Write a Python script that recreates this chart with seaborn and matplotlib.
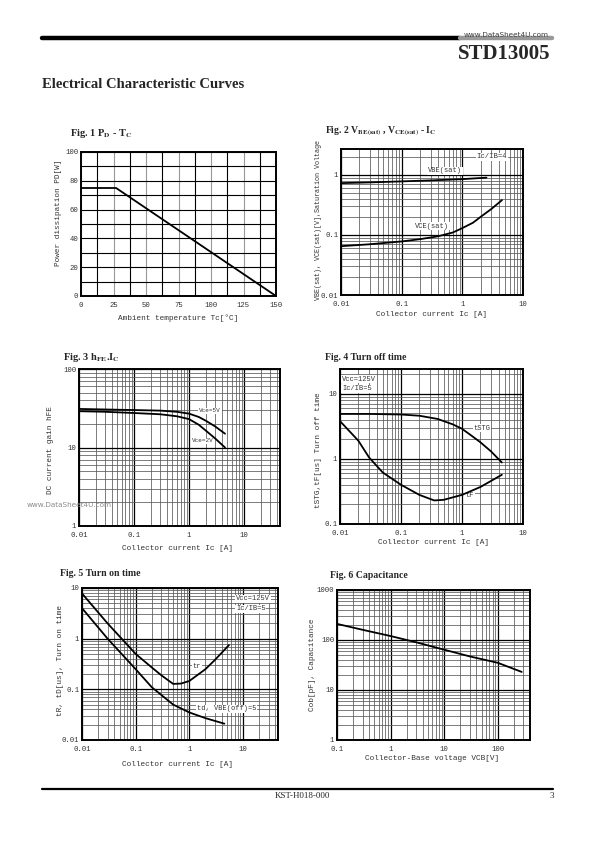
import numpy as np
import matplotlib
matplotlib.use("Agg")
import matplotlib.pyplot as plt
import seaborn as sns
from matplotlib.ticker import LogLocator, NullFormatter, MultipleLocator
from matplotlib.lines import Line2D

# ---------------- data ----------------
# Fig 1  Pd - Tc
pd_tc = [0, 27, 150]
pd_w = [75, 75, 0]

# Fig 2  VBE(sat), VCE(sat) - Ic
ic_vbe = [0.01, 0.03, 0.1, 0.3, 1, 2.5]
vbe_sat = [0.73, 0.75, 0.78, 0.81, 0.85, 0.9]
ic_vce = [0.01, 0.03, 0.1, 0.2, 0.4, 0.7, 1, 1.5, 2, 3, 4.5]
vce_sat = [0.065, 0.07, 0.078, 0.085, 0.095, 0.11, 0.13, 0.16, 0.2, 0.27, 0.38]

# Fig 3  hFE - Ic
ic_hfe = [0.01, 0.03, 0.1, 0.3, 0.6, 1, 1.5, 2, 3, 4.5]
hfe_5v = [31, 30.5, 30, 29.5, 28.5, 27, 24.5, 22, 18.5, 15]
hfe_2v = [29, 28.5, 27.5, 26.5, 25, 23, 19.5, 16.5, 13, 10]

# Fig 4  Turn off time
ic_stg = [0.01, 0.03, 0.1, 0.2, 0.4, 0.7, 1, 1.5, 2, 3, 4.5]
t_stg = [4.9, 4.9, 4.8, 4.6, 4.1, 3.4, 2.9, 2.2, 1.8, 1.3, 0.88]
ic_tf = [0.01, 0.02, 0.03, 0.05, 0.1, 0.2, 0.35, 0.5, 1, 2, 4.5]
t_f = [3.8, 1.9, 1.05, 0.62, 0.4, 0.28, 0.23, 0.235, 0.28, 0.37, 0.57]

# Fig 5  Turn on time
ic_tr = [0.01, 0.03, 0.1, 0.2, 0.3, 0.5, 0.7, 1, 2, 3, 5.5]
t_r = [7.8, 2.0, 0.5, 0.27, 0.19, 0.128, 0.13, 0.146, 0.25, 0.38, 0.75]
ic_td = [0.01, 0.03, 0.1, 0.2, 0.5, 1, 2, 4.5]
t_d = [4.0, 1.0, 0.25, 0.11, 0.05, 0.035, 0.027, 0.021]

# Fig 6  Capacitance
vcb = [0.1, 0.3, 1, 3, 10, 30, 100, 280]
cob = [210, 160, 120, 90, 64, 47, 35, 23]

# tick labels
log_x_labels = ["0.01", "0.1", "1", "10"]

# ---------------- figure ----------------
W, H = 595, 842
sns.set_style("white")
plt.rcParams['font.family'] = ['Liberation Mono', 'DejaVu Sans']
plt.rcParams['mathtext.fontset'] = 'stix'

fig = plt.figure(figsize=(W / 100, H / 100), dpi=100)
SERIF = ['Liberation Serif', 'DejaVu Serif']
TXT = '#333333'


def add_ax(l, t, r, b):
    return fig.add_axes([l / W, 1 - b / H, (r - l) / W, (b - t) / H])


def ftext(x, y, s, **kw):
    kw.setdefault('va', 'center')
    fig.text(x / W, 1 - y / H, s, **kw)


box = dict(facecolor='white', edgecolor='none', pad=0.5)


def atext(ax, x, y, s, size=5, **kw):
    """Label inside an axes, placed in page pixels, drawn under the curves."""
    kw.setdefault('va', 'center')
    ax.text(x / W, 1 - y / H, s, transform=fig.transFigure, fontsize=size,
            color=TXT, zorder=1.5, bbox=box, **kw)


def style(ax, xlog, ylog, xlim, ylim, xt, xtl, yt, ytl):
    if xlog:
        ax.set_xscale('log')
    if ylog:
        ax.set_yscale('log')
    ax.set_xlim(xlim)
    ax.set_ylim(ylim)
    ax.set_xticks(xt)
    ax.set_xticklabels(xtl)
    ax.set_yticks(yt)
    ax.set_yticklabels(ytl)
    if xlog:
        ax.xaxis.set_minor_locator(LogLocator(base=10, subs=np.arange(2, 10)))
    if ylog:
        ax.yaxis.set_minor_locator(LogLocator(base=10, subs=np.arange(2, 10)))
    ax.xaxis.set_minor_formatter(NullFormatter())
    ax.yaxis.set_minor_formatter(NullFormatter())
    ax.grid(which='major', color='black', lw=0.9)
    ax.grid(which='minor', color='0.35', lw=0.55)
    ax.tick_params(which='both', length=0, labelsize=5.2, colors=TXT)
    ax.tick_params(axis='x', pad=4)
    ax.tick_params(axis='y', pad=2)
    for s in ax.spines.values():
        s.set_color('black')
        s.set_linewidth(1.4)
        s.set_zorder(3)
    ax.set_axisbelow(True)
    ax.set_xlabel('')
    ax.set_ylabel('')


LW = 1.3

# ---------------- page decorations ----------------
fig.add_artist(Line2D([42 / W, 460 / W], [1 - 38 / H] * 2, color='black', lw=3.2))
fig.add_artist(Line2D([460 / W, 552 / W], [1 - 38 / H] * 2, color='0.6', lw=3.2))
ftext(464, 35, "www.DataSheet4U.com", family='DejaVu Sans', fontsize=5.2, color='0.25')
ftext(550, 54, "STD13005", family=SERIF, fontweight='bold', fontsize=15, ha='right')
ftext(42, 85, "Electrical Characteristic Curves", family=SERIF, fontweight='bold', fontsize=10.5)
fig.add_artist(Line2D([42 / W, 553 / W], [1 - 789 / H] * 2, color='black', lw=1.6))
ftext(275, 796, "KST-H018-000", family=SERIF, fontsize=6.5)
ftext(550, 796, "3", family=SERIF, fontsize=6.5)

# ---------------- Fig 1 ----------------
ax1 = add_ax(81, 152, 276, 296)
sns.lineplot(x=pd_tc, y=pd_w, ax=ax1, color='black', lw=LW)
style(ax1, False, False, (0, 150), (0, 100),
      [0, 25, 50, 75, 100, 125, 150], ["0", "25", "50", "75", "100", "125", "150"],
      [0, 20, 40, 60, 80, 100], ["0", "20", "40", "60", "80", "100"])
ax1.xaxis.set_minor_locator(MultipleLocator(12.5))
ax1.yaxis.set_minor_locator(MultipleLocator(10))
ax1.grid(which='both', color='black', lw=0.8)
ax1.grid(which='major', axis='x', color='0.6', lw=0.8)
ftext(70, 133, r"Fig. 1 P$_\mathbf{D}$ - T$_\mathbf{C}$", family=SERIF, fontweight='bold', fontsize=7.5)
ftext(178, 318, "Ambient temperature Tc[°C]", fontsize=5.6, color=TXT, ha='center')
ftext(58, 213, "Power dissipation PD[W]", fontsize=5.6, color=TXT, ha='center', rotation=90)

# ---------------- Fig 2 ----------------
ax2 = add_ax(341, 149, 523, 295)
sns.lineplot(x=ic_vbe, y=vbe_sat, ax=ax2, color='black', lw=LW)
sns.lineplot(x=ic_vce, y=vce_sat, ax=ax2, color='black', lw=LW)
style(ax2, True, True, (0.01, 10), (0.01, 2.7),
      [0.01, 0.1, 1, 10], log_x_labels, [0.01, 0.1, 1], ["0.01", "0.1", "1"])
ftext(325, 131, r"Fig. 2 V$_\mathbf{BE(sat)}$ , V$_\mathbf{CE(sat)}$ - I$_\mathbf{C}$",
      family=SERIF, fontweight='bold', fontsize=7)
atext(ax2, 492, 157, "Ic/IB=4", size=5.2, ha='center')
atext(ax2, 445, 171, "VBE(sat)", ha='center')
atext(ax2, 432, 226, "VCE(sat)", ha='center')
ftext(431, 314, "Collector current Ic [A]", fontsize=5.6, color=TXT, ha='center')
ftext(318, 220, "VBE(sat), VCE(sat)[V],Saturation Voltage", fontsize=4.9, color=TXT,
      ha='center', rotation=90)

# ---------------- Fig 3 ----------------
ax3 = add_ax(79, 369, 280, 526)
sns.lineplot(x=ic_hfe, y=hfe_5v, ax=ax3, color='black', lw=LW)
sns.lineplot(x=ic_hfe, y=hfe_2v, ax=ax3, color='black', lw=LW)
style(ax3, True, True, (0.01, 45), (1, 100),
      [0.01, 0.1, 1, 10], log_x_labels, [1, 10, 100], ["1", "10", "100"])
ftext(63, 357, r"Fig. 3 h$_\mathbf{FE}$.I$_\mathbf{C}$", family=SERIF, fontweight='bold', fontsize=7.5)
atext(ax3, 210, 411, "Vce=5V", size=4.3, ha='center')
atext(ax3, 203, 441, "Vce=2V", size=4.3, ha='center')
ftext(177, 548, "Collector current Ic [A]", fontsize=5.6, color=TXT, ha='center')
ftext(51, 450, "DC current gain hFE", fontsize=5.6, color=TXT, ha='center', rotation=90)
ftext(27, 505, "www.DataSheet4U.com", family='DejaVu Sans', fontsize=5.2, color='0.55')

# ---------------- Fig 4 ----------------
ax4 = add_ax(340, 369, 523, 524)
sns.lineplot(x=ic_stg, y=t_stg, ax=ax4, color='black', lw=LW)
sns.lineplot(x=ic_tf, y=t_f, ax=ax4, color='black', lw=LW)
style(ax4, True, True, (0.01, 10), (0.1, 24),
      [0.01, 0.1, 1, 10], log_x_labels, [0.1, 1, 10], ["0.1", "1", "10"])
ftext(325, 357, "Fig. 4 Turn off time", family=SERIF, fontweight='bold', fontsize=7)
atext(ax4, 342, 379, "Vcc=125V")
atext(ax4, 342, 389, "Ic/IB=5")
atext(ax4, 482, 428, "tSTG", ha='center')
atext(ax4, 470, 496, "tF", ha='center')
ftext(434, 543, "Collector current Ic [A]", fontsize=5.6, color=TXT, ha='center')
ftext(319, 450, "tSTG,tF[us] Turn off time", fontsize=5.6, color=TXT, ha='center', rotation=90)

# ---------------- Fig 5 ----------------
ax5 = add_ax(82, 588, 278, 740)
sns.lineplot(x=ic_tr, y=t_r, ax=ax5, color='black', lw=LW)
sns.lineplot(x=ic_td, y=t_d, ax=ax5, color='black', lw=LW)
style(ax5, True, True, (0.01, 45), (0.01, 10),
      [0.01, 0.1, 1, 10], log_x_labels, [0.01, 0.1, 1, 10], ["0.01", "0.1", "1", "10"])
ftext(60, 573, "Fig. 5 Turn on time", family=SERIF, fontweight='bold', fontsize=7)
atext(ax5, 236, 599, "Vcc=125V")
atext(ax5, 236, 609, "Ic/IB=5")
atext(ax5, 197, 667, "tr", ha='center')
atext(ax5, 197, 709, "td, VBE(off)=5")
ftext(177, 765, "Collector current Ic [A]", fontsize=5.6, color=TXT, ha='center')
ftext(60, 660, "tR, tD[us], Turn on time", fontsize=5.6, color=TXT, ha='center', rotation=90)

# ---------------- Fig 6 ----------------
ax6 = add_ax(337, 590, 530, 740)
sns.lineplot(x=vcb, y=cob, ax=ax6, color='black', lw=LW)
style(ax6, True, True, (0.1, 400), (1, 1000),
      [0.1, 1, 10, 100], ["0.1", "1", "10", "100"], [1, 10, 100, 1000], ["1", "10", "100", "1000"])
ftext(330, 576, "Fig. 6 Capacitance", family=SERIF, fontweight='bold', fontsize=7)
ftext(432, 758, "Collector-Base voltage VCB[V]", fontsize=5.6, color=TXT, ha='center')
ftext(313, 665, "Cob[pF], Capacitance", fontsize=5.6, color=TXT, ha='center', rotation=90)

fig.savefig("out.png", dpi=100, facecolor='white')
